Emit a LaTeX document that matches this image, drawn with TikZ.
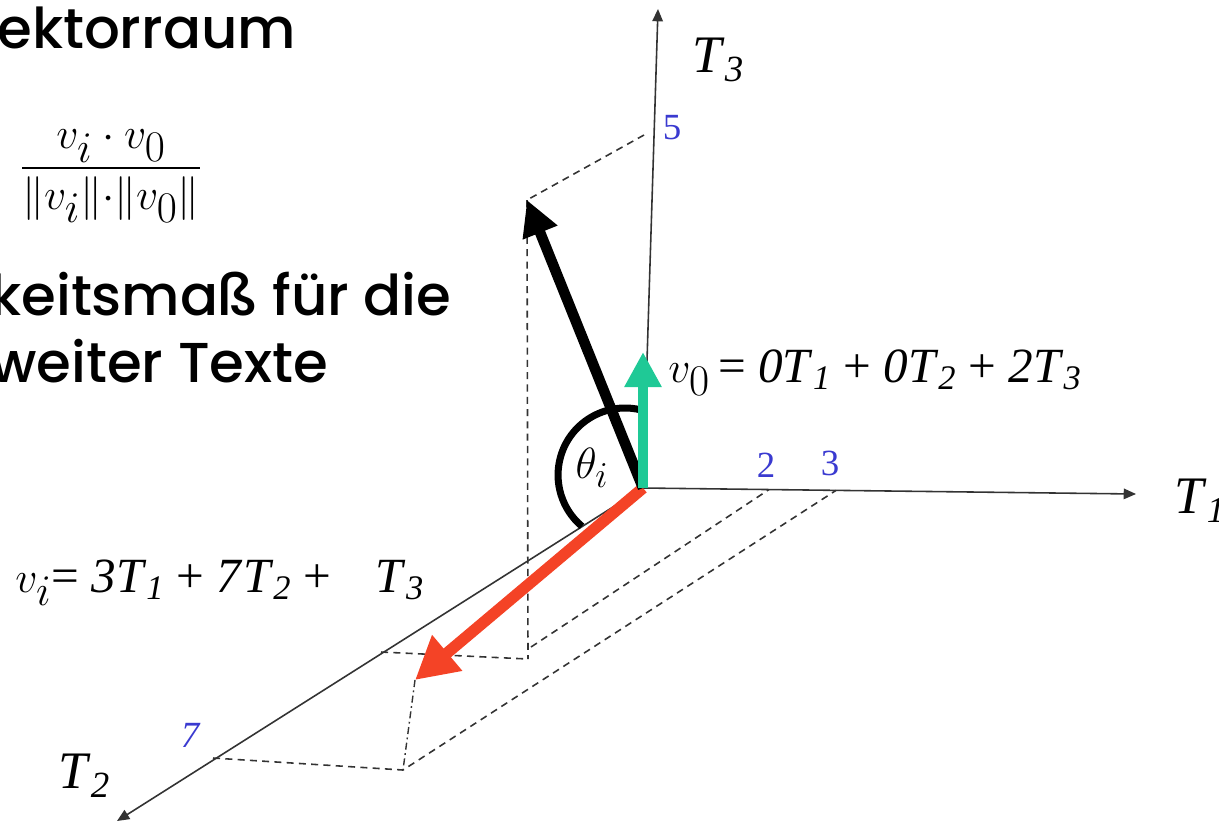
\documentclass[tikz,border=0pt]{standalone}
\usepackage{fontspec}
\usepackage{amsmath}
\usepackage{tikz}
\usetikzlibrary{arrows.meta,positioning,calc}
\newfontfamily\slidefont{Poppins}[UprightFont=* Medium]
\newfontfamily\tnr{Liberation Serif}
\definecolor{vecred}{HTML}{F44326}
\definecolor{vecgreen}{HTML}{1FC996}
\definecolor{ticknum}{HTML}{3A3AD0}
\newcommand{\Tv}[1]{\textit{T}\textsubscript{\textit{#1}}}

\begin{document}
\begin{tikzpicture}[x=0.02cm, y=-0.02cm,
  axis/.style={-{Triangle[length=7pt,width=6pt]}, line width=0.9pt, black!80},
  guide/.style={line width=0.9pt, black!80, dash pattern=on 4pt off 3pt},
  dashdot/.style={line width=0.8pt, black!80, dash pattern=on 4pt off 2pt on 1pt off 2pt},
  vecarr/.style={-{Triangle[length=20pt,width=20pt]}, line width=6pt},
  anglearc/.style={line width=4pt, black},
  axislabel/.style={font=\tnr\fontsize{30}{30}\selectfont, anchor=base west, inner sep=0pt},
  ticknum/.style={font=\tnr\fontsize{21}{21}\selectfont, text=ticknum, inner sep=0pt},
  eqn/.style={font=\tnr\fontsize{28}{28}\selectfont, anchor=base west, inner sep=0pt},
  slide/.style={font=\slidefont\fontsize{32}{38}\selectfont, anchor=base west, inner sep=0pt}
]
  \useasboundingbox (0,0) rectangle (1219,823);

  % slide text on the left
  \node[slide] (title) at (-3,48) {ektorraum};
  \node[font=\fontsize{34}{34}\selectfont] (cosfrac) at (111,176)
    {$\displaystyle\frac{v_i\cdot v_0}{\|v_i\|{\cdot}\|v_0\|}$};
  \node[slide] (line1) at (-10,315) {keitsmaß für die};
  \node[slide] (line2) at (-10,382) {weiter Texte};

  % axes
  \coordinate (O) at (643,488);
  \coordinate (t1end) at (1136,494);
  \coordinate (t2end) at (117,821);
  \coordinate (t3end) at (658,9);
  \coordinate (t1two) at (769,489.5);
  \coordinate (t1three) at (836,490.4);
  \coordinate (t2seven) at (213,758);
  \coordinate (t2mid) at (381,652);
  \coordinate (t3five) at (644,135);

  % vector tips and their floor points
  \coordinate (bk) at (527,200);
  \coordinate (bkfloor) at (528,659);
  \coordinate (bkside) at (531,647);
  \coordinate (rd) at (415,680);
  \coordinate (rdfloor) at (403,770);
  \coordinate (gn) at (643,352);

  % guide lines
  \draw[guide] (t3five) -- (bk);
  \draw[guide] (bk) -- (bkfloor);
  \draw[guide] (t2mid) -- (bkfloor);
  \draw[guide] (bkside) -- (t1two);
  \draw[guide] (t2seven) -- (rdfloor) -- (t1three);
  \draw[dashdot] (rd) -- (rdfloor);

  \draw[axis] (O) -- (t1end);
  \draw[axis] (O) -- (t2end);
  \draw[axis] (O) -- (t3end);

  \node[axislabel] (lt1) at (1174,513) {\Tv{1}};
  \node[axislabel] (lt2) at (58,788) {\Tv{2}};
  \node[axislabel] (lt3) at (692,72) {\Tv{3}};
  \node[ticknum] (n5) at (672,128) {5};
  \node[ticknum] (n2) at (766,465) {2};
  \node[ticknum] (n3) at (830,463) {3};
  \node[ticknum, font=\tnr\itshape\fontsize{21}{21}\selectfont] (n7) at (190,735) {7};

  % vectors
  \draw[-{Triangle[length=24pt,width=25pt]}, line width=6.5pt, vecred] (O) -- (rd);
  \node[fill=white, inner sep=1pt, font=\fontsize{28}{28}\selectfont] (theta) at (592,468) {$\theta_i$};
  \draw[anglearc] (643.5,410.6) arc[start angle=-74, end angle=-230, radius=67];
  \draw[vecarr, black] (O) -- (bk);
  \draw[-{Triangle[length=20pt,width=20pt]}, line width=6pt, vecgreen] (O) -- (gn);

  % equations
  \node[eqn] (eqv0) at (668,382)
    {{\fontsize{37}{37}\selectfont$v_0$}\,= \textit{0}\Tv{1} + \textit{0}\Tv{2} + \textit{2}\Tv{3}};
  \node[eqn] (eqvi) at (15,592)
    {{\fontsize{37}{37}\selectfont$v_i$}= \textit{3}\Tv{1} + \textit{7}\Tv{2} +\hspace{0.9em}\Tv{3}};
\end{tikzpicture}
\end{document}
